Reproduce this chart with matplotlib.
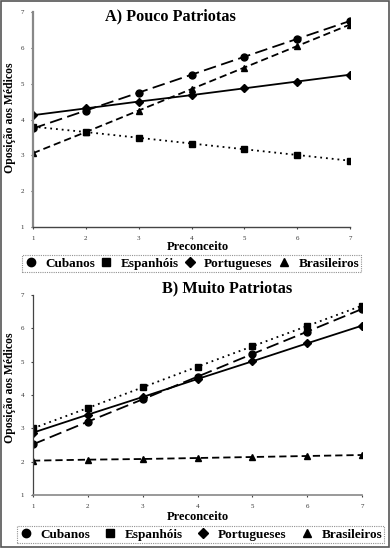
import matplotlib
matplotlib.use("Agg")
import matplotlib.pyplot as plt
from matplotlib.lines import Line2D
from matplotlib.patches import Rectangle

plt.rcParams['font.family'] = ['Liberation Serif', 'DejaVu Serif']

preconceito = [1, 2, 3, 4, 5, 6, 7]
series_names = ["Cubanos", "Espanhóis", "Portugueses", "Brasileiros"]

# Panel A: Pouco Patriotas
a_cubanos = [3.75, 4.25, 4.75, 5.25, 5.75, 6.25, 6.75]
a_espanhois = [3.80, 3.65, 3.49, 3.33, 3.17, 3.01, 2.85]
a_portugueses = [4.12, 4.31, 4.50, 4.68, 4.87, 5.06, 5.25]
a_brasileiros = [3.06, 3.65, 4.25, 4.85, 5.45, 6.05, 6.65]

# Panel B: Muito Patriotas
b_cubanos = [2.52, 3.20, 3.87, 4.55, 5.23, 5.90, 6.58]
b_espanhois = [3.00, 3.61, 4.23, 4.85, 5.46, 6.07, 6.68]
b_portugueses = [2.87, 3.41, 3.94, 4.48, 5.01, 5.55, 6.08]
b_brasileiros = [2.03, 2.06, 2.08, 2.11, 2.14, 2.17, 2.20]

styles = {
    "Cubanos": dict(marker='o', linestyle=(0, (7, 3)), ms=5.0),
    "Espanhóis": dict(marker='s', linestyle=(0, (1, 2.2)), ms=4.2),
    "Portugueses": dict(marker='D', linestyle='-', ms=4.2),
    "Brasileiros": dict(marker='^', linestyle=(0, (4, 2.2)), ms=4.8),
}

W, H = 390, 548
fig = plt.figure(figsize=(W / 100, H / 100), dpi=100)

def px_axes(l, r, t, b):
    return fig.add_axes([l / W, 1 - b / H, (r - l) / W, (b - t) / H])

def draw_panel(ax, data, yspine_col, xspine_col):
    for name, vals in zip(series_names, data):
        st = styles[name]
        ax.plot(preconceito, vals, color='black', linewidth=1.3,
                linestyle=st['linestyle'], marker=st['marker'],
                markersize=st['ms'], markerfacecolor='black',
                markeredgecolor='black')
    ax.set_xlim(1, 7)
    ax.set_ylim(1, 7)
    ax.set_xticks(preconceito)
    ax.set_yticks([1, 2, 3, 4, 5, 6, 7])
    ax.tick_params(labelsize=5, length=1.5, width=0.8, pad=5,
                   labelcolor='#333333', color='#444444')
    for s in ['top', 'right']:
        ax.spines[s].set_visible(False)
    ax.spines['left'].set_color(yspine_col[0])
    ax.spines['left'].set_linewidth(yspine_col[1])
    ax.spines['bottom'].set_color(xspine_col[0])
    ax.spines['bottom'].set_linewidth(xspine_col[1])
    ax.patch.set_alpha(0)

axA = px_axes(33, 350, 12, 227)
draw_panel(axA, [a_cubanos, a_espanhois, a_portugueses, a_brasileiros],
           ('#888888', 1.6), ('#444444', 1.0))
axB = px_axes(33, 362, 295, 495)
draw_panel(axB, [b_cubanos, b_espanhois, b_portugueses, b_brasileiros],
           ('#444444', 0.9), ('#888888', 1.2))

def fx(x):
    return x / W

def fy(y):
    return 1 - y / H

fig.text(fx(170), fy(16), "A) Pouco Patriotas", ha='center', va='center',
         fontsize=11.7, fontweight='bold')
fig.text(fx(227), fy(288), "B) Muito Patriotas", ha='center', va='center',
         fontsize=11.7, fontweight='bold')
fig.text(fx(198), fy(247), "Preconceito", ha='center', va='center',
         fontsize=9, fontweight='bold')
fig.text(fx(198), fy(517), "Preconceito", ha='center', va='center',
         fontsize=9, fontweight='bold')
fig.text(fx(10), fy(118), "Oposição aos Médicos", ha='center', va='center',
         rotation=90, fontsize=8.5, fontweight='bold')
fig.text(fx(10), fy(388), "Oposição aos Médicos", ha='center', va='center',
         rotation=90, fontsize=8.5, fontweight='bold')

handles = [Line2D([], [], color='black', linestyle='none',
                  marker=styles[n]['marker'], markersize=styles[n]['ms'] + 1)
           for n in series_names]

def add_legend(l, r, t, b):
    leg = fig.legend(handles, series_names, ncol=4, loc='center',
                     bbox_to_anchor=(fx(l), fy(b), fx(r) - fx(l), fy(t) - fy(b)),
                     mode='expand', frameon=True, fancybox=False,
                     prop={'weight': 'bold', 'size': 9.5},
                     handlelength=1.0, handletextpad=0.6, columnspacing=0.8,
                     borderpad=0.15, borderaxespad=0)
    fr = leg.get_frame()
    fr.set_edgecolor('#777777')
    fr.set_linestyle((0, (1, 1)))
    fr.set_linewidth(0.8)
    return leg

add_legend(22, 361, 256, 271)
add_legend(17, 384, 527, 542)

fig.patches.append(Rectangle((0.003, 0.002), 0.994, 0.996, transform=fig.transFigure,
                             fill=False, edgecolor='#555555', linewidth=1.2))

fig.savefig("out.png", dpi=100)
